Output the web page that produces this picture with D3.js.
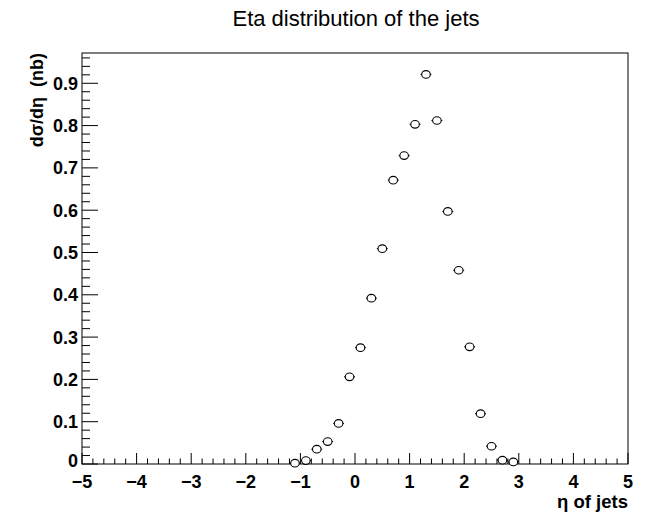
<!DOCTYPE html>
<html><head><meta charset="utf-8">
<script src="https://cdn.jsdelivr.net/npm/d3@7"></script>
<style>body{margin:0;background:#fff;} svg{display:block;}</style>
</head><body>
<script>
const etaCenters = [-1.1,-0.9,-0.7,-0.5,-0.3,-0.1,0.1,0.3,0.5,0.7,0.9,1.1,1.3,1.5,1.7,1.9,2.1,2.3,2.5,2.7,2.9];
const dsigma = [0.002,0.008,0.035,0.053,0.096,0.206,0.275,0.392,0.509,0.671,0.729,0.803,0.921,0.812,0.597,0.458,0.277,0.119,0.042,0.009,0.005];
const binHalfWidth = 0.1;
const xTicks = [-5,-4,-3,-2,-1,0,1,2,3,4,5];
const yTicks = [0,0.1,0.2,0.3,0.4,0.5,0.6,0.7,0.8,0.9];
const titleText = "Eta distribution of the jets";
const xLabel = "η of jets";
const yLabel = "dσ/dη  (nb)";

const W = 656, H = 515;
const L = 82, R = 628, T = 53, B = 464;
const svg = d3.select("body").append("svg").attr("width", W).attr("height", H);
const x = d3.scaleLinear().domain([-5,5]).range([L,R]);
const y = d3.scaleLinear().domain([0,0.9716]).range([B,T]);
const font = "'Liberation Sans', Arial, Helvetica, sans-serif";

// frame
svg.append("rect").attr("x",L).attr("y",T).attr("width",R-L).attr("height",B-T)
  .attr("fill","none").attr("stroke","#000").attr("stroke-width",1);

// x ticks
const fmt = v => (v<0 ? "\u2212"+Math.abs(v) : String(v));
const xMinor = d3.range(-5,5.0001,0.2).map(v=>+v.toFixed(2));
svg.append("g").selectAll("line").data(xMinor).join("line")
  .attr("x1",d=>x(d)).attr("x2",d=>x(d)).attr("y1",B)
  .attr("y2",d=> Math.abs(d-Math.round(d))<1e-6 ? B-11 : B-5.5)
  .attr("stroke","#000").attr("stroke-width",1);
svg.append("g").selectAll("text").data(xTicks).join("text")
  .attr("x",d=>x(d)).attr("y",B+23.5).attr("text-anchor","middle")
  .attr("font-family",font).attr("font-weight","bold").attr("font-size",18)
  .text(fmt);

// y ticks
const yMinor = d3.range(0,0.9601,0.02).map(v=>+v.toFixed(2));
svg.append("g").selectAll("line").data(yMinor).join("line")
  .attr("y1",d=>y(d)).attr("y2",d=>y(d)).attr("x1",L)
  .attr("x2",d=> Math.abs(d*10-Math.round(d*10))<1e-6 ? L+16 : L+8)
  .attr("stroke","#000").attr("stroke-width",1);
svg.append("g").selectAll("text").data(yTicks).join("text")
  .attr("x",L-4).attr("y",d=>y(d)+(d===0?3:6.5)).attr("text-anchor","end")
  .attr("font-family",font).attr("font-weight","bold").attr("font-size",18)
  .text(d=>d===0?"0":d.toFixed(1));

// title
svg.append("text").attr("x",356).attr("y",26).attr("text-anchor","middle")
  .attr("font-family",font).attr("font-size",22).text(titleText);
// axis labels
svg.append("text").attr("x",R).attr("y",508).attr("text-anchor","end")
  .attr("font-family",font).attr("font-weight","bold").attr("font-size",18.5).text(xLabel);
svg.append("text").attr("transform",`translate(43,${T}) rotate(-90)`).attr("text-anchor","end")
  .style("white-space","pre")
  .attr("font-family",font).attr("font-weight","bold").attr("font-size",18).text(yLabel);

// data points
const pts = etaCenters.map((c,i)=>({c, v: dsigma[i]}));
const g = svg.append("g");
g.selectAll("line.err").data(pts).join("line").attr("class","err")
  .attr("x1",d=>x(d.c-binHalfWidth)).attr("x2",d=>x(d.c+binHalfWidth))
  .attr("y1",d=>y(d.v)).attr("y2",d=>y(d.v)).attr("stroke","#000").attr("stroke-width",1);
g.selectAll("ellipse").data(pts).join("ellipse")
  .attr("cx",d=>x(d.c)).attr("cy",d=>y(d.v)).attr("rx",4.3).attr("ry",3.8)
  .attr("fill","#fff").attr("stroke","#000").attr("stroke-width",1.1);
</script>
</body></html>
